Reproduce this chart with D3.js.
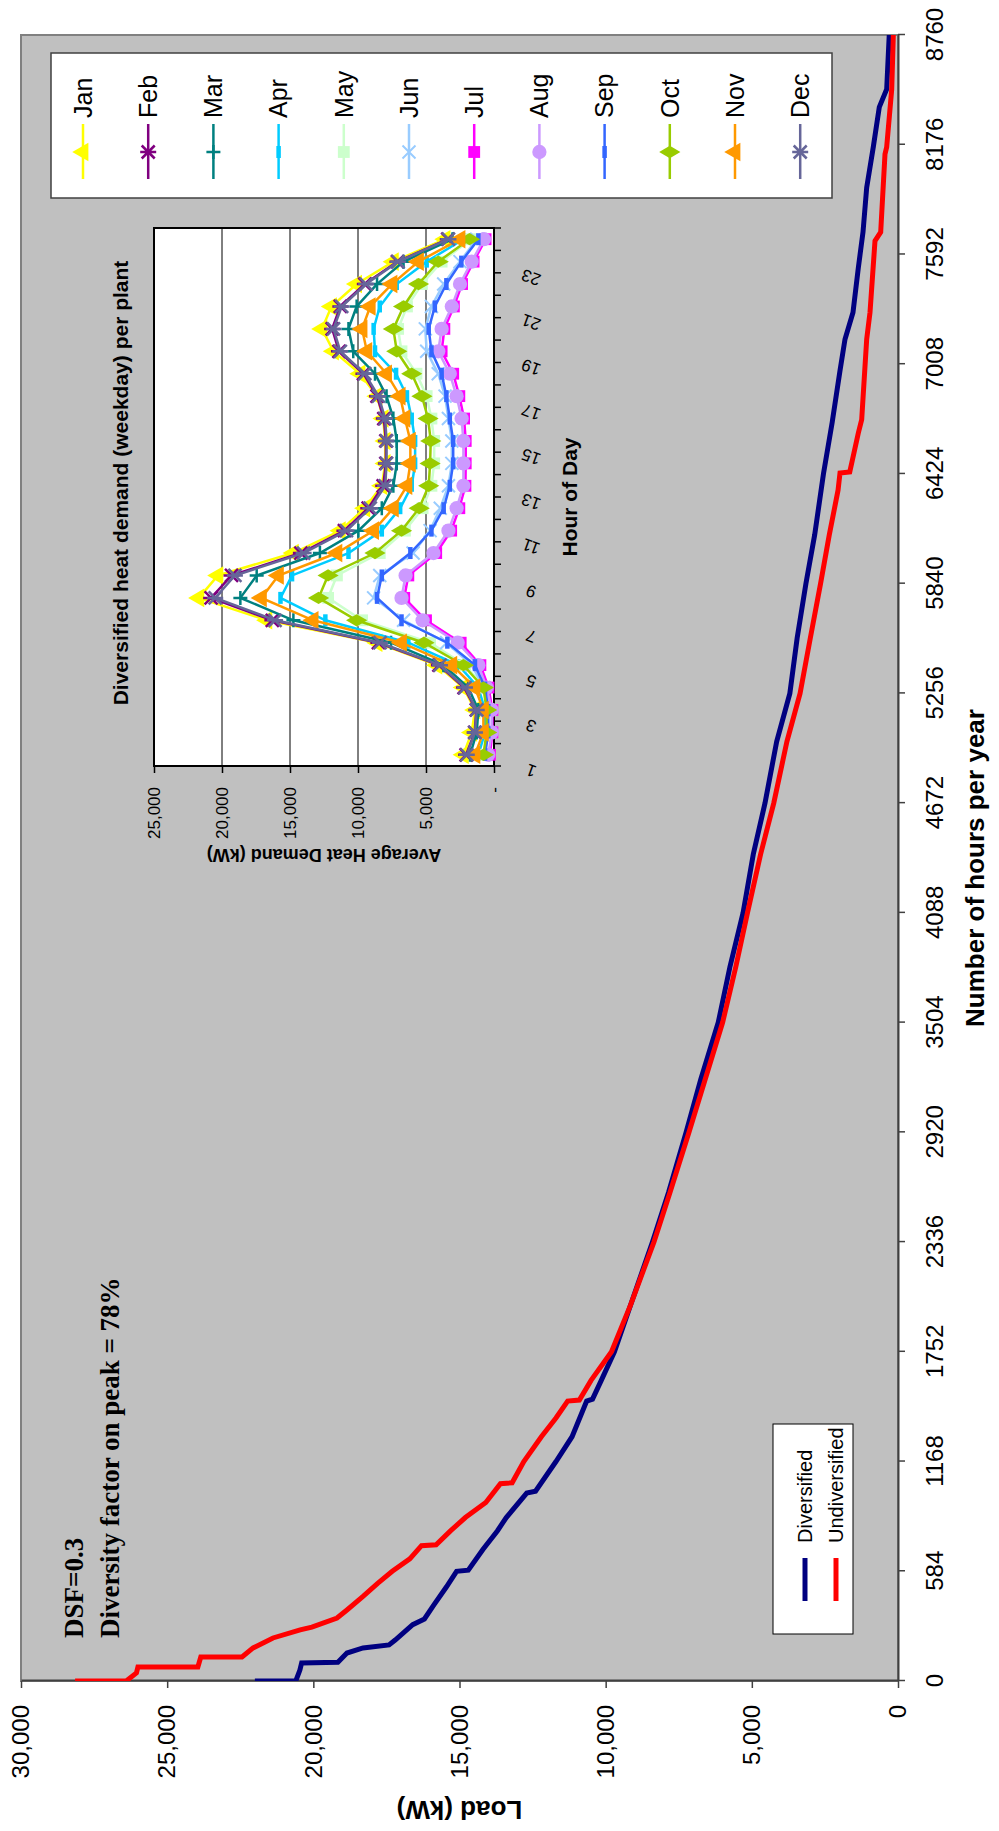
<!DOCTYPE html>
<html>
<head>
<meta charset="utf-8">
<script src="https://cdn.jsdelivr.net/npm/d3@7"></script>
<style>
  body { margin: 0; background: #fff; }
  svg { display: block; }
  text { font-family: Arial, "Liberation Sans", sans-serif; fill: #000; }
</style>
</head>
<body>
<div id="chart"></div>
<script>
// ---- main chart data (load duration curves) ----
const hourTicks = [0, 584, 1168, 1752, 2336, 2920, 3504, 4088, 4672, 5256, 5840, 6424, 7008, 7592, 8176, 8760];
const loadTicks = [0, 5000, 10000, 15000, 20000, 25000, 30000];

const divHours = [0, 0, 58, 96, 100, 149, 176, 192, 218, 300, 330, 400, 500, 584, 590, 700, 800, 870, 1000, 1010, 1168, 1300, 1490, 1500, 1600, 1752, 2000, 2336, 2600, 2920, 3200, 3504, 3800, 4088, 4400, 4672, 5000, 5256, 5550, 5840, 6100, 6424, 6700, 6974, 7141, 7283, 7520, 7711, 7948, 8164, 8376, 8471, 8760];
const divLoad  = [22000, 20600, 20460, 20400, 19160, 18850, 18300, 17410, 17200, 16600, 16200, 15900, 15450, 15100, 14700, 14200, 13700, 13400, 12700, 12400, 11700, 11150, 10650, 10450, 10150, 9700, 9150, 8400, 7850, 7250, 6750, 6150, 5750, 5300, 4950, 4550, 4150, 3700, 3450, 3150, 2850, 2550, 2250, 1984, 1813, 1540, 1358, 1197, 1071, 845, 640, 387, 300];

const undivHours = [0, 0, 43, 75, 75, 128, 128, 176, 229, 272, 287, 335, 378, 450, 520, 584, 650, 720, 725, 800, 870, 950, 1050, 1055, 1168, 1300, 1400, 1490, 1495, 1600, 1752, 2000, 2336, 2600, 2920, 3200, 3504, 3800, 4088, 4400, 4672, 5000, 5256, 5550, 5840, 6100, 6338, 6429, 6435, 6498, 6642, 6713, 7141, 7283, 7664, 7711, 8126, 8164, 8471, 8760];
const undivLoad  = [28150, 26400, 26050, 26000, 23950, 23850, 22440, 22060, 21380, 20450, 20050, 19190, 18850, 18300, 17800, 17300, 16700, 16300, 15800, 15300, 14800, 14100, 13600, 13200, 12800, 12200, 11700, 11300, 10900, 10500, 9800, 9150, 8350, 7800, 7150, 6600, 6000, 5550, 5150, 4700, 4250, 3800, 3350, 3000, 2650, 2350, 2050, 1984, 1650, 1560, 1357, 1242, 1071, 958, 787, 592, 445, 387, 215, 160];

// ---- inset data (average weekday heat demand, kW) ----
const hourOfDay = [1, 2, 3, 4, 5, 6, 7, 8, 9, 10, 11, 12, 13, 14, 15, 16, 17, 18, 19, 20, 21, 22, 23, 24];
const hourLabels = [1, 3, 5, 7, 9, 11, 13, 15, 17, 19, 21, 23];
const insetTicks = [0, 5000, 10000, 15000, 20000, 25000];
const months = ['Jan', 'Feb', 'Mar', 'Apr', 'May', 'Jun', 'Jul', 'Aug', 'Sep', 'Oct', 'Nov', 'Dec'];

const jan = [2250, 1640, 1400, 2250, 4200, 8600, 16700, 21700, 20300, 14750, 11300, 9500, 8250, 8000, 8000, 8150, 8600, 9850, 11800, 12650, 11950, 10100, 7400, 3600];
const feb = [2050, 1420, 1300, 2200, 4050, 8500, 16300, 20800, 19300, 14200, 11000, 9250, 8150, 7950, 7950, 8100, 8600, 9600, 11400, 11900, 11300, 9500, 7100, 3400];
const mar = [1760, 1270, 1150, 1890, 3720, 7570, 14750, 18650, 17450, 12800, 9970, 8250, 7400, 7150, 7150, 7400, 7900, 8750, 10350, 10700, 10100, 8600, 6650, 3050];
const apr = [1150, 660, 660, 1150, 2620, 6300, 12400, 15700, 14850, 10700, 8250, 6900, 6050, 5800, 5800, 6050, 6400, 7200, 8750, 8850, 8400, 7150, 4950, 2250];
const may = [660, 490, 490, 660, 2130, 4700, 9700, 12200, 11550, 8400, 6550, 5250, 4600, 4400, 4400, 4600, 4950, 5700, 6800, 7050, 6400, 5300, 3850, 1700];
const jun = [740, 490, 490, 740, 1640, 3480, 6650, 8850, 8400, 5950, 4700, 3950, 3350, 3100, 3100, 3350, 3600, 4100, 4950, 5050, 4600, 3700, 2500, 1270];
const jul = [300, 120, 120, 400, 1000, 2450, 5000, 6600, 6300, 4250, 3150, 2550, 2100, 2080, 2080, 2200, 2550, 3000, 3850, 3650, 2950, 2350, 1500, 620];
const aug = [420, 170, 170, 540, 1150, 2670, 5250, 6800, 6500, 4450, 3350, 2750, 2250, 2250, 2250, 2380, 2750, 3250, 4100, 3850, 3100, 2500, 1640, 740];
const sep = [660, 420, 420, 660, 1400, 3430, 6800, 8600, 8250, 6150, 4600, 3700, 3250, 3000, 3000, 3250, 3500, 3850, 4600, 4800, 4350, 3500, 2400, 1150];
const oct = [780, 540, 540, 780, 2250, 5150, 10100, 12900, 12200, 8750, 6800, 5500, 4800, 4700, 4650, 4850, 5300, 6050, 7150, 7400, 6650, 5550, 4100, 1800];
const nov = [1400, 780, 780, 1400, 3100, 6800, 13300, 17100, 15850, 11550, 8850, 7400, 6400, 6150, 6150, 6550, 6900, 7900, 9350, 9700, 9100, 7500, 5550, 2500];
const dec = [2000, 1400, 1270, 2130, 3970, 8380, 16100, 20500, 19050, 14000, 10850, 9100, 8000, 7900, 7900, 8000, 8500, 9500, 11300, 11800, 11200, 9400, 7050, 3350];

const monthSeries = [jan, feb, mar, apr, may, jun, jul, aug, sep, oct, nov, dec];
const monthColors = ['#FFFF00', '#800080', '#008080', '#00CCFF', '#CCFFCC', '#99CCFF', '#FF00FF', '#CC99FF', '#3366FF', '#99CC00', '#FF9900', '#666699'];
const monthMarkers = ['triangle', 'star', 'plus', 'dash', 'square', 'x', 'square', 'circle', 'dash', 'diamond', 'triangle', 'star'];

// chart is laid out landscape, then turned a quarter turn anticlockwise
const W = 1831, H = 999;
const svg = d3.select('#chart').append('svg')
  .attr('width', H)
  .attr('height', W);

const g = svg.append('g')
  .attr('transform', 'translate(0,' + W + ') rotate(-90)');

const plot = {left: 150, right: 1796, top: 21, bottom: 898};

const x = d3.scaleLinear().domain([0, 8760]).range([plot.left, plot.right]);
const y = d3.scaleLinear().domain([0, 30000]).range([plot.bottom, plot.top]);

g.append('rect')
  .attr('x', plot.left).attr('y', plot.top)
  .attr('width', plot.right - plot.left).attr('height', plot.bottom - plot.top)
  .attr('fill', '#C0C0C0')
  .attr('stroke', '#808080').attr('stroke-width', 2);

// axes
const xAxis = g.append('g')
  .attr('transform', 'translate(0,' + plot.bottom + ')')
  .call(d3.axisBottom(x).tickValues(hourTicks).tickFormat(d3.format('d')).tickSize(7).tickSizeOuter(0).tickPadding(21));
const yAxis = g.append('g')
  .attr('transform', 'translate(' + plot.left + ',0)')
  .call(d3.axisLeft(y).tickValues(loadTicks).tickFormat(d3.format(',')).tickSize(7).tickSizeOuter(0).tickPadding(17));

[xAxis, yAxis].forEach(a => {
  a.select('.domain').attr('stroke', '#404040').attr('stroke-width', 2);
  a.selectAll('.tick line').attr('stroke', '#404040').attr('stroke-width', 1.5);
  a.selectAll('.tick text').attr('font-size', 24).attr('fill', '#000');
});

g.append('text')
  .attr('x', (plot.left + plot.right) / 2 - 10).attr('y', 984)
  .attr('text-anchor', 'middle').attr('font-size', 26).attr('font-weight', 'bold')
  .text('Number of hours per year');

g.append('text')
  .attr('transform', 'translate(30,' + (plot.top + plot.bottom) / 2 + ') rotate(-90)')
  .attr('text-anchor', 'middle').attr('font-size', 26).attr('font-weight', 'bold')
  .text('Load (kW)');

// duration curves
const clip = g.append('clipPath').attr('id', 'plotclip');
clip.append('rect').attr('x', plot.left).attr('y', plot.top)
  .attr('width', plot.right - plot.left).attr('height', plot.bottom - plot.top);

const curve = d3.line().x(d => x(d[0])).y(d => y(d[1]));
const divPts = divHours.map((h, i) => [h, divLoad[i]]);
const undivPts = undivHours.map((h, i) => [h, undivLoad[i]]);

g.append('path').attr('d', curve(divPts)).attr('fill', 'none')
  .attr('stroke', '#000080').attr('stroke-width', 5).attr('clip-path', 'url(#plotclip)');
g.append('path').attr('d', curve(undivPts)).attr('fill', 'none')
  .attr('stroke', '#FF0000').attr('stroke-width', 5).attr('clip-path', 'url(#plotclip)');

// annotation (serif, set as style so the css default does not win)
const note = g.append('text')
  .style('font-family', '"Times New Roman", "Liberation Serif", serif')
  .attr('font-size', 27).attr('font-weight', 'bold');
note.append('tspan').attr('x', 193).attr('y', 83).text('DSF=0.3');
note.append('tspan').attr('x', 193).attr('y', 119).text('Diversity factor on peak = 78%');

// main legend
const leg = g.append('g');
leg.append('rect').attr('x', 197).attr('y', 773).attr('width', 210).attr('height', 80)
  .attr('fill', '#fff').attr('stroke', '#000').attr('stroke-width', 1);
[['Diversified', '#000080', 805], ['Undiversified', '#FF0000', 836]].forEach(e => {
  leg.append('line').attr('x1', 230).attr('x2', 273).attr('y1', e[2]).attr('y2', e[2])
    .attr('stroke', e[1]).attr('stroke-width', 5);
  leg.append('text').attr('x', 288).attr('y', e[2]).attr('dy', '0.35em')
    .attr('font-size', 20).text(e[0]);
});

// ---- inset chart ----
const inset = {left: 1065, right: 1603, top: 154, bottom: 494};
const xi = d3.scaleBand().domain(hourOfDay).range([inset.left, inset.right]);
const yi = d3.scaleLinear().domain([0, 25000]).range([inset.bottom, inset.top]);
const bw = xi.bandwidth();

g.append('rect')
  .attr('x', inset.left).attr('y', inset.top)
  .attr('width', inset.right - inset.left).attr('height', inset.bottom - inset.top)
  .attr('fill', '#fff');

g.append('g').selectAll('line')
  .data(insetTicks.filter(v => v > 0 && v < 25000))
  .join('line')
  .attr('x1', inset.left).attr('x2', inset.right)
  .attr('y1', d => yi(d)).attr('y2', d => yi(d))
  .attr('stroke', '#000').attr('stroke-width', 1);

g.append('rect')
  .attr('x', inset.left).attr('y', inset.top)
  .attr('width', inset.right - inset.left).attr('height', inset.bottom - inset.top)
  .attr('fill', 'none').attr('stroke', '#000').attr('stroke-width', 2);

const yiAxis = g.append('g')
  .attr('transform', 'translate(' + inset.left + ',0)')
  .call(d3.axisLeft(yi).tickValues(insetTicks)
    .tickFormat(d => d === 0 ? '-' : d3.format(',')(d))
    .tickSize(7).tickSizeOuter(0).tickPadding(14));
yiAxis.select('.domain').remove();
yiAxis.selectAll('.tick line').attr('stroke', '#000').attr('stroke-width', 1.5);
yiAxis.selectAll('.tick text').attr('font-size', 17).attr('fill', '#000');

// category ticks sit between hours
g.append('g').selectAll('line')
  .data(hourOfDay.concat([25]))
  .join('line')
  .attr('x1', d => d === 25 ? inset.right : xi(d)).attr('x2', d => d === 25 ? inset.right : xi(d))
  .attr('y1', inset.bottom).attr('y2', inset.bottom + 7)
  .attr('stroke', '#000').attr('stroke-width', 1.5);

g.append('g').selectAll('text')
  .data(hourLabels)
  .join('text')
  .attr('transform', d => 'translate(' + (xi(d) + bw / 2 - 16) + ',531) rotate(-70)')
  .attr('text-anchor', 'middle').attr('dy', '0.35em')
  .attr('font-size', 17)
  .text(d => d);

g.append('text')
  .attr('x', (inset.left + inset.right) / 2).attr('y', 577)
  .attr('text-anchor', 'middle').attr('font-size', 21).attr('font-weight', 'bold')
  .text('Hour of Day');

g.append('text')
  .attr('transform', 'translate(982,' + (inset.top + inset.bottom) / 2 + ') rotate(-90)')
  .attr('text-anchor', 'middle').attr('font-size', 18).attr('font-weight', 'bold')
  .text('Average Heat Demand (kW)');

g.append('text')
  .attr('x', 1348).attr('y', 128)
  .attr('text-anchor', 'middle').attr('font-size', 21).attr('font-weight', 'bold')
  .text('Diversified heat demand (weekday) per plant');

function drawMarker(sel, type, color) {
  if (type === 'triangle') {
    sel.append('path').attr('d', d3.symbol(d3.symbolTriangle, 150)()).attr('fill', color);
  } else if (type === 'square') {
    sel.append('path').attr('d', d3.symbol(d3.symbolSquare, 140)()).attr('fill', color);
  } else if (type === 'circle') {
    sel.append('path').attr('d', d3.symbol(d3.symbolCircle, 160)()).attr('fill', color);
  } else if (type === 'diamond') {
    sel.append('path').attr('d', d3.symbol(d3.symbolDiamond, 130)()).attr('fill', color);
  } else if (type === 'star') {
    sel.append('path').attr('d', 'M-6.5,-6.5L6.5,6.5M-6.5,6.5L6.5,-6.5M0,-8L0,8')
      .attr('stroke', color).attr('stroke-width', 2.5).attr('fill', 'none');
  } else if (type === 'x') {
    sel.append('path').attr('d', 'M-6.5,-6.5L6.5,6.5M-6.5,6.5L6.5,-6.5')
      .attr('stroke', color).attr('stroke-width', 2).attr('fill', 'none');
  } else if (type === 'plus') {
    sel.append('path').attr('d', 'M-7,0L7,0M0,-7L0,7')
      .attr('stroke', color).attr('stroke-width', 2.5).attr('fill', 'none');
  } else if (type === 'dash') {
    sel.append('path').attr('d', 'M-6,0L6,0')
      .attr('stroke', color).attr('stroke-width', 4.5).attr('fill', 'none');
  }
}

const insetLine = d3.line().x(d => xi(d[0]) + bw / 2).y(d => yi(d[1]));

monthSeries.forEach((vals, m) => {
  const pts = hourOfDay.map((h, i) => [h, vals[i]]);
  const sg = g.append('g');
  sg.append('path').attr('d', insetLine(pts)).attr('fill', 'none')
    .attr('stroke', monthColors[m]).attr('stroke-width', 2.5);
  pts.forEach(p => {
    const mk = sg.append('g').attr('transform', 'translate(' + (xi(p[0]) + bw / 2) + ',' + yi(p[1]) + ')');
    drawMarker(mk, monthMarkers[m], monthColors[m]);
  });
});

// month legend
const mleg = g.append('g');
mleg.append('rect').attr('x', 1633).attr('y', 51).attr('width', 145).attr('height', 781)
  .attr('fill', '#fff').attr('stroke', '#404040').attr('stroke-width', 1.5);
months.forEach((name, m) => {
  const cy = 83 + m * 65.2;
  mleg.append('line').attr('x1', 1652).attr('x2', 1707).attr('y1', cy).attr('y2', cy)
    .attr('stroke', monthColors[m]).attr('stroke-width', 2.5);
  const mk = mleg.append('g').attr('transform', 'translate(1679,' + cy + ')');
  drawMarker(mk, monthMarkers[m], monthColors[m]);
  mleg.append('text').attr('x', 1713).attr('y', cy).attr('dy', '0.35em')
    .attr('font-size', 25).text(name);
});
</script>
</body>
</html>
